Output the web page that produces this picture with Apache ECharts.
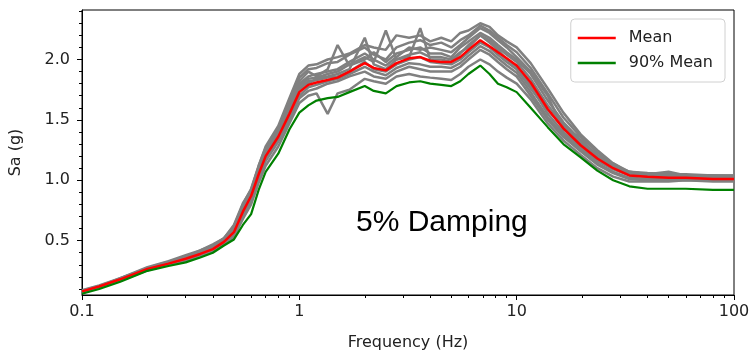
<!DOCTYPE html>
<html>
<head>
<meta charset="utf-8">
<script src="https://cdn.jsdelivr.net/npm/echarts@6/dist/echarts.min.js"></script>
<style>
  html, body { margin: 0; padding: 0; background: #fff; }
  #chart { width: 753px; height: 356px; }
</style>
</head>
<body>
<div id="chart"></div>
<script>
// frequencies (Hz) shared by every curve
const freq = [0.1, 0.12, 0.15, 0.2, 0.25, 0.3, 0.35, 0.4, 0.45, 0.5,
  0.55, 0.6, 0.65, 0.7, 0.8, 0.9, 1.0, 1.1, 1.2, 1.35,
  1.5, 1.7, 2.0, 2.2, 2.5, 2.8, 3.2, 3.6, 4.0, 4.5,
  5.0, 5.5, 6.0, 6.8, 7.5, 8.2, 9.0, 10, 11.6, 13.9,
  16.4, 19.7, 23.5, 27.8, 33, 40, 50, 60, 80, 100];

const meanSa = [0.08, 0.12, 0.18, 0.265, 0.31, 0.35, 0.39, 0.43, 0.49, 0.57,
  0.74, 0.87, 1.05, 1.2, 1.36, 1.55, 1.73, 1.79, 1.81, 1.83,
  1.85, 1.9, 1.97, 1.93, 1.91, 1.97, 2.01, 2.02, 1.99, 1.98,
  1.98, 2.02, 2.08, 2.16, 2.11, 2.06, 2.01, 1.95, 1.81, 1.59,
  1.43, 1.29, 1.18, 1.1, 1.04, 1.03, 1.02, 1.02, 1.01, 1.01];

const mean90Sa = [0.06, 0.1, 0.16, 0.25, 0.29, 0.32, 0.36, 0.4, 0.46, 0.51,
  0.63, 0.72, 0.92, 1.07, 1.22, 1.42, 1.56, 1.62, 1.66, 1.68,
  1.69, 1.73, 1.78, 1.74, 1.72, 1.78, 1.81, 1.82, 1.8, 1.79,
  1.78, 1.82, 1.88, 1.95, 1.88, 1.8, 1.77, 1.73, 1.6, 1.44,
  1.3, 1.19, 1.08, 1.0, 0.95, 0.93, 0.93, 0.93, 0.92, 0.92];

// individual records (grey)
const rec1 = [0.09, 0.13, 0.19, 0.28, 0.33, 0.38, 0.42, 0.46, 0.52, 0.62,
  0.8, 0.93, 1.12, 1.28, 1.45, 1.68, 1.88, 1.95, 1.96, 2.0,
  2.02, 2.05, 2.12, 2.1, 2.08, 2.2, 2.18, 2.2, 2.15, 2.18,
  2.15, 2.22, 2.24, 2.3, 2.27, 2.2, 2.15, 2.1, 1.97, 1.76,
  1.56, 1.38, 1.25, 1.14, 1.07, 1.06, 1.05, 1.05, 1.04, 1.04];
const rec2 = [0.07, 0.11, 0.17, 0.255, 0.3, 0.33, 0.37, 0.41, 0.47, 0.53,
  0.68, 0.8, 0.98, 1.12, 1.28, 1.47, 1.64, 1.7, 1.72, 1.55,
  1.72, 1.75, 1.84, 1.82, 1.8, 1.86, 1.88, 1.86, 1.85, 1.84,
  1.83, 1.88, 1.94, 2.0, 1.96, 1.9, 1.85, 1.8, 1.67, 1.47,
  1.33, 1.21, 1.1, 1.03, 0.99, 0.99, 0.99, 1.0, 0.99, 0.99];
const rec3 = [0.08, 0.12, 0.18, 0.27, 0.32, 0.37, 0.41, 0.45, 0.5, 0.6,
  0.78, 0.9, 1.1, 1.25, 1.4, 1.62, 1.82, 1.9, 1.86, 1.92,
  2.12, 1.95, 2.0, 2.06, 1.98, 2.05, 2.08, 2.1, 2.05, 2.05,
  2.02, 2.1, 2.15, 2.22, 2.18, 2.12, 2.06, 2.0, 1.88, 1.66,
  1.48, 1.33, 1.21, 1.12, 1.06, 1.04, 1.04, 1.03, 1.03, 1.03];
const rec4 = [0.08, 0.12, 0.18, 0.26, 0.31, 0.35, 0.4, 0.44, 0.5, 0.58,
  0.72, 0.86, 1.04, 1.2, 1.36, 1.55, 1.74, 1.8, 1.84, 1.86,
  1.88, 1.92, 2.18, 1.96, 1.92, 2.0, 2.02, 2.26, 2.0, 2.0,
  1.98, 2.05, 2.12, 2.2, 2.14, 2.08, 2.0, 1.94, 1.78, 1.55,
  1.4, 1.27, 1.16, 1.09, 1.04, 1.03, 1.02, 1.02, 1.02, 1.02];
const rec5 = [0.08, 0.12, 0.18, 0.27, 0.32, 0.36, 0.42, 0.47, 0.52, 0.6,
  0.76, 0.88, 1.08, 1.22, 1.38, 1.58, 1.78, 1.84, 1.85, 1.88,
  1.9, 1.96, 2.02, 1.98, 2.24, 2.0, 2.04, 2.06, 2.02, 2.02,
  2.0, 2.06, 2.1, 2.2, 2.16, 2.1, 2.04, 1.98, 1.84, 1.62,
  1.46, 1.31, 1.2, 1.12, 1.07, 1.05, 1.06, 1.04, 1.03, 1.03];
const rec6 = [0.07, 0.11, 0.17, 0.26, 0.3, 0.34, 0.38, 0.42, 0.48, 0.55,
  0.7, 0.83, 1.0, 1.16, 1.32, 1.5, 1.68, 1.74, 1.76, 1.8,
  1.82, 1.86, 1.9, 1.86, 1.84, 1.9, 1.94, 1.92, 1.9, 1.9,
  1.9, 1.94, 2.0, 2.08, 2.04, 1.98, 1.92, 1.86, 1.7, 1.5,
  1.36, 1.24, 1.13, 1.06, 1.01, 1.0, 1.0, 1.0, 1.0, 1.0];
const rec7 = [0.08, 0.12, 0.19, 0.27, 0.32, 0.36, 0.4, 0.45, 0.51, 0.61,
  0.79, 0.91, 1.1, 1.24, 1.4, 1.6, 1.8, 1.86, 1.88, 1.9,
  1.92, 1.98, 2.05, 2.0, 1.95, 2.02, 2.1, 2.08, 2.1, 2.08,
  2.06, 2.12, 2.18, 2.26, 2.22, 2.16, 2.1, 2.02, 1.9, 1.7,
  1.42, 1.36, 1.16, 1.14, 1.06, 1.05, 1.07, 1.04, 1.04, 1.03];
const rec8 = [0.08, 0.12, 0.18, 0.26, 0.31, 0.36, 0.41, 0.45, 0.5, 0.57,
  0.74, 0.86, 1.05, 1.2, 1.37, 1.56, 1.76, 1.82, 1.83, 1.85,
  1.86, 1.9, 1.98, 1.92, 1.9, 1.96, 2.0, 2.02, 1.98, 1.97,
  1.96, 2.0, 2.06, 2.14, 2.1, 2.04, 1.98, 1.92, 1.76, 1.58,
  1.44, 1.28, 1.18, 1.1, 1.05, 1.03, 1.03, 1.02, 1.02, 1.02];
const rec9 = [0.085, 0.125, 0.185, 0.275, 0.325, 0.37, 0.415, 0.46, 0.52, 0.63,
  0.81, 0.92, 1.12, 1.27, 1.43, 1.64, 1.85, 1.92, 1.93, 1.97,
  1.98, 2.04, 2.1, 2.04, 2.0, 2.1, 2.14, 2.16, 2.12, 2.14,
  2.1, 2.16, 2.2, 2.28, 2.24, 2.18, 2.12, 2.06, 1.93, 1.72,
  1.52, 1.36, 1.23, 1.13, 1.07, 1.05, 1.05, 1.04, 1.04, 1.04];
const rec10 = [0.075, 0.115, 0.175, 0.26, 0.305, 0.34, 0.385, 0.42, 0.48, 0.56,
  0.72, 0.85, 1.02, 1.18, 1.34, 1.52, 1.7, 1.77, 1.79, 1.82,
  1.84, 1.88, 1.94, 1.9, 1.87, 1.93, 1.97, 1.96, 1.94, 1.94,
  1.93, 1.97, 2.03, 2.11, 2.07, 2.01, 1.95, 1.89, 1.73, 1.52,
  1.38, 1.25, 1.14, 1.07, 1.02, 1.01, 1.01, 1.01, 1.01, 1.01];
const records = [rec1, rec2, rec3, rec4, rec5, rec6, rec7, rec8, rec9, rec10];

const yTickLabels = [0.5, 1.0, 1.5, 2.0];
const yMinorTicks = [0.1, 0.2, 0.3, 0.4, 0.6, 0.7, 0.8, 0.9, 1.1, 1.2, 1.3, 1.4,
  1.6, 1.7, 1.8, 1.9, 2.1, 2.2, 2.3, 2.4];
const xMinorTicks = [0.2, 0.3, 0.4, 0.5, 0.6, 0.7, 0.8, 0.9, 2, 3, 4, 5, 6, 7, 8, 9,
  20, 30, 40, 50, 60, 70, 80, 90];

const font = "DejaVu Sans";
const pairs = (vals) => freq.map((f, i) => [f, vals[i]]);

const chart = echarts.init(document.getElementById("chart"));
chart.setOption({
  animation: false,
  grid: {
    left: 80, right: 19, top: 10, bottom: 58,
    show: true, borderColor: "#000", borderWidth: 1,
  },
  legend: {
    data: ["Mean", "90% Mean"],
    orient: "vertical",
    right: 28,
    top: 19,
    icon: "rect",
    itemWidth: 38,
    itemHeight: 2.5,
    itemGap: 9,
    padding: [11, 12, 11, 7],
    borderColor: "#d0d0d0",
    borderWidth: 1,
    borderRadius: 4,
    backgroundColor: "#fff",
    textStyle: { fontFamily: font, fontSize: 16, color: "#222", padding: [0, 0, 0, 8] },
  },
  xAxis: [
    {
      type: "log", logBase: 10, min: 0.1, max: 100, position: "bottom",
      name: "Frequency (Hz)", nameLocation: "middle", nameGap: 40,
      nameTextStyle: { fontFamily: font, fontSize: 16, color: "#222" },
      axisLine: { onZero: false, lineStyle: { color: "#000", width: 1 } },
      axisTick: { inside: false, length: 5, lineStyle: { color: "#000" } },
      axisLabel: { fontFamily: font, fontSize: 16, color: "#222", margin: 9 },
      splitLine: { show: false },
    },
    {
      // minor ticks, placed in decade units
      type: "value", min: -1, max: 2, position: "bottom",
      axisLine: { show: false, onZero: false },
      axisTick: { show: true, length: 3, customValues: xMinorTicks.map(Math.log10), lineStyle: { color: "#000" } },
      axisLabel: { show: false },
      splitLine: { show: false },
    },
  ],
  yAxis: [
    {
      type: "value", min: 0.05, max: 2.41, position: "left",
      name: "Sa (g)", nameLocation: "middle", nameGap: 58,
      nameTextStyle: { fontFamily: font, fontSize: 16, color: "#222" },
      axisLine: { show: true, onZero: false, lineStyle: { color: "#000", width: 1 } },
      axisTick: { show: true, length: 5, customValues: yTickLabels, lineStyle: { color: "#000" } },
      axisLabel: {
        fontFamily: font, fontSize: 16, color: "#222", margin: 12,
        customValues: yTickLabels,
        formatter: (v) => v.toFixed(1),
      },
      splitLine: { show: false },
    },
    {
      type: "value", min: 0.05, max: 2.41, position: "left",
      axisLine: { show: false, onZero: false },
      axisTick: { show: true, length: 3, customValues: yMinorTicks, lineStyle: { color: "#000" } },
      axisLabel: { show: false },
      splitLine: { show: false },
    },
  ],
  graphic: [
    {
      type: "text",
      left: 356,
      top: 208,
      style: { text: "5% Damping", font: "30px 'Liberation Sans'", fill: "#000" },
    },
  ],
  series: [
    ...records.map((r, i) => ({
      name: "rec" + (i + 1),
      type: "line",
      data: pairs(r),
      symbol: "none",
      lineStyle: { color: "#808080", width: 2.5 },
      itemStyle: { color: "#808080" },
      z: 1,
    })),
    {
      name: "Mean",
      type: "line",
      data: pairs(meanSa),
      symbol: "none",
      lineStyle: { color: "#ff0000", width: 2.5 },
      itemStyle: { color: "#ff0000" },
      z: 3,
    },
    {
      name: "90% Mean",
      type: "line",
      data: pairs(mean90Sa),
      symbol: "none",
      lineStyle: { color: "#008000", width: 2.2 },
      itemStyle: { color: "#008000" },
      z: 4,
    },
  ],
});
</script>
</body>
</html>
